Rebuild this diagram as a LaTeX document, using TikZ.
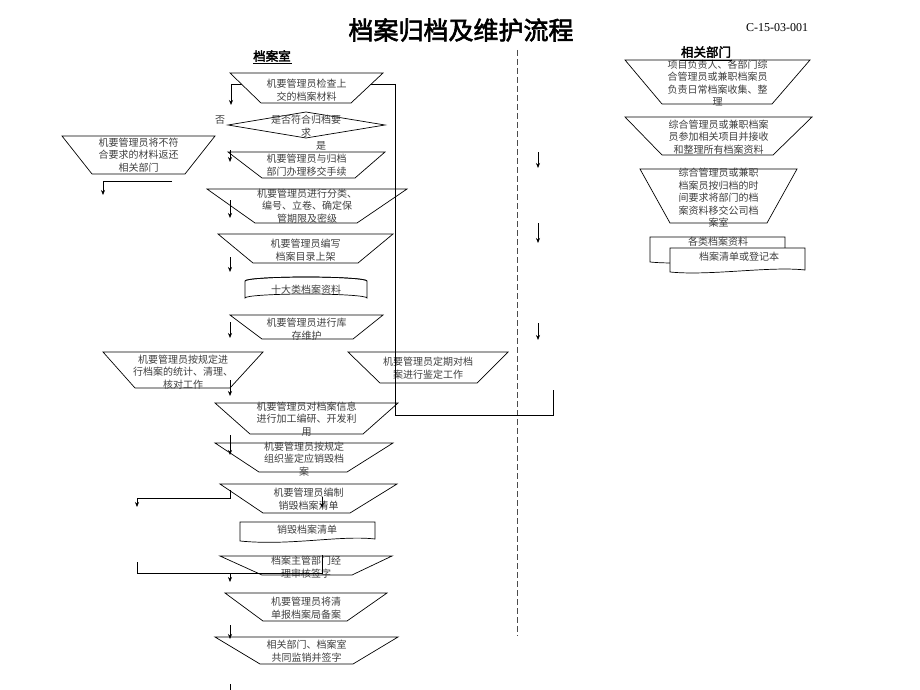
\documentclass[tikz,border=0pt]{standalone}
\usepackage{fontspec}
\setmainfont{Liberation Serif}
\newfontfamily\cjk{Noto Sans CJK SC}
\newfontfamily\cjkbold[FakeBold=2.5]{Noto Sans CJK SC}
\usetikzlibrary{arrows.meta}
\newcommand\mop[9]{%
  \draw[shp] (#2,#4) -- (#3,#4) -- (#6,#7) -- (#5,#7) -- cycle;
  \node[txt] (#1) at ({(#2+#3)/2},#8) {#9};}
\begin{document}
\begin{tikzpicture}[x=1pt,y=-1pt,
  shp/.style={draw=black,line width=0.7pt,fill=white},
  txt/.style={font={\cjk\fontsize{10}{12.5}\selectfont},text=black!75,align=center,inner sep=0pt},
  ln/.style={draw=black,line width=0.7pt},
  arr/.style={draw=black,line width=0.7pt,-{Stealth[length=5pt,width=4pt]}}]
\useasboundingbox[fill=white] (0,0) rectangle (920,690);

% title
\node[font={\cjkbold\fontsize{25}{28}\selectfont},inner sep=0pt] (title) at (461,30) {档案归档及维护流程};
\node[font=\fontsize{12}{14}\selectfont,inner sep=0pt] (code) at (777,28) {C-15-03-001};

% dashed separator
\draw[draw=black!70,line width=0.8pt,dash pattern=on 6pt off 3pt] (517,50) -- (517,636);

% column headers
\node[font={\cjkbold\fontsize{12.5}{14}\selectfont},inner sep=0pt] (hdrL) at (272,56) {档案室};
\draw[ln] (253,63) -- (292,63);

% connector under first shape
\coordinate (c1) at (395,84);
\coordinate (c2) at (231,84);
\coordinate (c3) at (231,105);
\draw[arr] (c1) -- (c2) -- (c3);

% left column shapes
\mop{s1}{230}{383}{73}{261}{351}{103}{90}{机要管理员检查上\\交的档案材料}
\draw[shp] (228,125) -- (306,112) -- (385,125) -- (306,138) -- cycle;
\node[txt] (d) at (306,126) {是否符合归档要\\求};
\node[txt] (no) at (220,120) {否};
\node[txt] (yes) at (321,146) {是};
\mop{s3}{228}{385}{152}{262}{355}{178}{165}{机要管理员与归档\\部门办理移交手续}
\mop{s4}{207}{407}{189}{255}{357}{223}{206}{机要管理员进行分类、\\编号、立卷、确定保\\管期限及密级}
\mop{s5}{218}{393}{234}{253}{358}{263}{250}{机要管理员编写\\档案目录上架}
% cylinder
\draw[shp] (245,281) -- (245,298) arc[start angle=180,end angle=360,x radius=61,y radius=4] -- (367,281) arc[start angle=0,end angle=-180,x radius=61,y radius=4] -- cycle;
\draw[line width=0.7pt] (245,281) arc[start angle=180,end angle=360,x radius=61,y radius=4];
\node[txt] (s6) at (306,290) {十大类档案资料};
\mop{s7}{230}{383}{315}{262}{353}{339}{329}{机要管理员进行库\\存维护}
\mop{s8}{103}{263}{352}{135}{230}{388}{372}{机要管理员按规定进\\行档案的统计、清理、\\核对工作}
\mop{s9}{348}{508}{352}{380}{477}{383}{368}{机要管理员定期对档\\案进行鉴定工作}
\mop{s10}{215}{398}{403}{250}{363}{434}{419}{机要管理员对档案信息\\进行加工编研、开发利\\用}
\mop{s11}{215}{393}{443}{259}{347}{472}{459}{机要管理员按规定\\组织鉴定应销毁档\\案}
\mop{s12}{220}{397}{484}{263}{350}{513}{499}{机要管理员编制\\销毁档案清单}
\draw[shp] (240,522) -- (375,522) -- (375,539) .. controls (340,535) and (290,546) .. (240,541) -- cycle;
\node[txt] (s13) at (307,530) {销毁档案清单};
\mop{s14}{220}{392}{556}{262}{352}{575}{567}{档案主管部门经\\理审核签字}
\mop{s15}{225}{387}{593}{263}{347}{621}{608}{机要管理员将清\\单报档案局备案}
\mop{s16}{215}{398}{637}{260}{353}{664}{651}{相关部门、档案室\\共同监销并签字}
\mop{b1}{62}{215}{136}{92}{185}{174}{155}{机要管理员将不符\\合要求的材料返还\\相关部门}

% right column
\mop{r1}{625}{810}{60}{662}{772}{104}{83}{项目负责人、各部门综\\合管理员或兼职档案员\\负责日常档案收集、整\\理}
\node[font={\cjkbold\fontsize{12.5}{14}\selectfont},inner sep=0pt] (hdrR) at (706,52) {相关部门};
\draw[ln] (680,60) -- (732,60);
\mop{r2}{625}{812}{117}{662}{773}{155}{137}{综合管理员或兼职档案\\员参加相关项目并接收\\和整理所有档案资料}
\mop{r3}{640}{797}{169}{670}{767}{223}{198}{综合管理员或兼职\\档案员按归档的时\\间要求将部门的档\\案资料移交公司档\\案室}
\draw[shp] (650,237) -- (785,237) -- (785,260) .. controls (750,256) and (690,266) .. (650,262) -- cycle;
\draw[shp] (670,248) -- (805,248) -- (805,270) .. controls (770,266) and (710,276) .. (670,272) -- cycle;
\node[txt] (r4) at (718,242) {各类档案资料};
\node[txt] (r5) at (739,257) {档案清单或登记本};

% connectors drawn over shapes
\coordinate (v1) at (395,415);
\coordinate (v2) at (553,415);
\coordinate (v3) at (553,390);
\draw[ln] (c1) -- (v1) -- (v2) -- (v3);
\coordinate (b1a) at (172,181);
\coordinate (b1b) at (103,181);
\coordinate (b1c) at (103,195);
\draw[arr] (b1a) -- (b1b) -- (b1c);

\foreach \ya/\yb [count=\i] in {150/162,200/218,257/272,322/338,380/396,435/455,573/582,625/639}{
  \coordinate (a\i s) at (230,\ya);
  \coordinate (a\i e) at (230,\yb);
  \draw[arr] (a\i s) -- (a\i e);
}
\coordinate (p1) at (230,490);
\coordinate (p2) at (230,498);
\coordinate (p3) at (137,498);
\coordinate (p4) at (137,507);
\draw[arr] (p1) -- (p2) -- (p3) -- (p4);
\coordinate (q1) at (322,497);
\coordinate (q2) at (322,508);
\draw[arr] (q1) -- (q2);
\coordinate (m1) at (137,562);
\coordinate (m2) at (137,573);
\coordinate (m3) at (322,573);
\coordinate (m4) at (322,555);
\draw[ln] (m1) -- (m2) -- (m3) -- (m4);
\coordinate (t1) at (230,684);
\coordinate (t2) at (230,690);
\draw[ln] (t1) -- (t2);

\foreach \ya/\yb [count=\i] in {152/168,223/243,323/340}{
  \coordinate (ra\i s) at (538,\ya);
  \coordinate (ra\i e) at (538,\yb);
  \draw[arr] (ra\i s) -- (ra\i e);
}
\end{tikzpicture}
\end{document}
